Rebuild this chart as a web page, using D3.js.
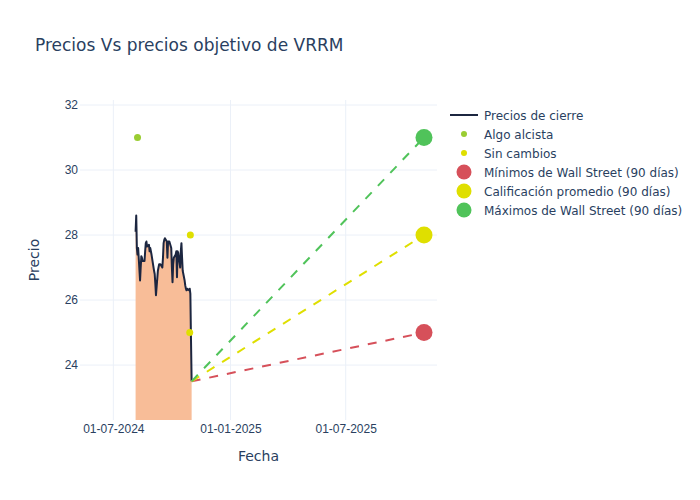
<!DOCTYPE html>
<html>
<head>
<meta charset="utf-8">
<script src="https://cdn.jsdelivr.net/npm/d3@7"></script>
<style>
  body { margin: 0; background: #fff; }
  svg { font-family: "DejaVu Sans", Verdana, sans-serif; }
</style>
</head>
<body>
<div id="chart"></div>
<script>
// ---------- DATA ----------
const priceDates = [
  "2024-08-05","2024-08-06","2024-08-07","2024-08-08","2024-08-09",
  "2024-08-12","2024-08-13","2024-08-14","2024-08-15","2024-08-16",
  "2024-08-19","2024-08-20","2024-08-21","2024-08-22","2024-08-23",
  "2024-08-26","2024-08-27","2024-08-28","2024-08-29","2024-08-30",
  "2024-09-03","2024-09-04","2024-09-05","2024-09-06",
  "2024-09-09","2024-09-10","2024-09-11","2024-09-12","2024-09-13",
  "2024-09-16","2024-09-17","2024-09-18","2024-09-19","2024-09-20",
  "2024-09-23","2024-09-24","2024-09-25","2024-09-26","2024-09-27",
  "2024-09-30","2024-10-01","2024-10-02","2024-10-03","2024-10-04",
  "2024-10-07","2024-10-08","2024-10-09","2024-10-10","2024-10-11",
  "2024-10-14","2024-10-15","2024-10-16","2024-10-17","2024-10-18",
  "2024-10-21","2024-10-22","2024-10-23","2024-10-24","2024-10-25",
  "2024-10-28","2024-10-29","2024-10-30","2024-10-31","2024-11-01"
];
const priceValues = [
  28.1, 28.6, 27.6, 27.4, 27.6,
  26.6, 27.0, 27.35, 27.3, 27.2,
  27.2, 27.5, 27.75, 27.8, 27.65,
  27.7, 27.5, 27.6, 27.5, 27.4,
  26.9, 26.8, 26.5, 26.15,
  26.9, 27.0, 27.1, 27.1, 27.1,
  27.0, 27.3, 27.75, 27.85, 27.9,
  27.8, 27.3, 27.8, 27.8, 27.8,
  27.6, 27.0, 26.55, 27.1, 27.3,
  27.4, 27.5, 26.7, 27.5, 27.45,
  27.0, 27.5, 27.75, 27.3, 26.9,
  26.6, 26.45, 26.35, 26.3, 26.35,
  26.3, 26.35, 26.2, 24.8, 23.5
];

const bullishDates = ["2024-08-08"];
const bullishValues = [31];
const neutralDates = ["2024-10-30", "2024-10-29"];
const neutralValues = [28, 25];

const targetStartDate = "2024-11-01";
const targetStartValue = 23.5;
const targetDate = "2025-11-01";
const targetNames = ["Mínimos de Wall Street (90 días)", "Calificación promedio (90 días)", "Máximos de Wall Street (90 días)"];
const targetValues = [25, 28, 31];
const targetColors = ["#d6505a", "#dfdf00", "#50c35a"];

const xDomain = ["2024-05-09T16:00:00Z", "2025-11-21T10:00:00Z"];
const yDomain = [22.31, 32.154];
const xTicks = ["2024-07-01", "2025-01-01", "2025-07-01"];
const yTicks = [24, 26, 28, 30, 32];

const legendItems = [
  { name: "Precios de cierre", type: "line", color: "#1c2640" },
  { name: "Algo alcista", type: "small", color: "#9acd32" },
  { name: "Sin cambios", type: "small", color: "#dfdf00" },
  { name: targetNames[0], type: "big", color: targetColors[0] },
  { name: targetNames[1], type: "big", color: targetColors[1] },
  { name: targetNames[2], type: "big", color: targetColors[2] }
];

// ---------- LAYOUT ----------
const W = 700, H = 500;
const plot = { left: 80, right: 437, top: 100, bottom: 420 };
const textColor = "#2a3f5f";
const gridColor = "#ebf0f8";

const parse = s => new Date(s.length === 10 ? s + "T00:00:00Z" : s);

const svg = d3.select("#chart").append("svg")
  .attr("width", W).attr("height", H);

const x = d3.scaleUtc().domain(xDomain.map(parse)).range([plot.left, plot.right]);
const y = d3.scaleLinear().domain(yDomain).range([plot.bottom, plot.top]);

// gridlines
const grid = svg.append("g");
grid.selectAll("line.gx").data(xTicks.map(parse)).enter().append("line")
  .attr("x1", d => x(d)).attr("x2", d => x(d))
  .attr("y1", plot.top).attr("y2", plot.bottom)
  .attr("stroke", gridColor).attr("stroke-width", 1);
grid.selectAll("line.gy").data(yTicks).enter().append("line")
  .attr("x1", plot.left).attr("x2", plot.right)
  .attr("y1", d => y(d)).attr("y2", d => y(d))
  .attr("stroke", gridColor).attr("stroke-width", 1);

// clip
svg.append("clipPath").attr("id", "clip").append("rect")
  .attr("x", plot.left).attr("y", plot.top)
  .attr("width", plot.right - plot.left).attr("height", plot.bottom - plot.top);

const g = svg.append("g").attr("clip-path", "url(#clip)");

const prices = priceDates.map((d, i) => ({ date: parse(d), value: priceValues[i] }));

// area fill to zero (clipped at bottom)
const area = d3.area()
  .x(d => x(d.date))
  .y0(y(0))
  .y1(d => y(d.value));
g.append("path").datum(prices)
  .attr("d", area)
  .attr("fill", "#f8bd98");

const line = d3.line().x(d => x(d.date)).y(d => y(d.value));
g.append("path").datum(prices)
  .attr("d", line)
  .attr("fill", "none")
  .attr("stroke", "#1c2640")
  .attr("stroke-width", 2)
  .attr("stroke-linejoin", "round");

// dashed target lines
targetValues.forEach((v, i) => {
  g.append("line")
    .attr("x1", x(parse(targetStartDate))).attr("y1", y(targetStartValue))
    .attr("x2", x(parse(targetDate))).attr("y2", y(v))
    .attr("stroke", targetColors[i]).attr("stroke-width", 2)
    .attr("stroke-dasharray", "9,9");
});

// analyst dots
g.selectAll("circle.bull").data(bullishDates.map((d, i) => ({ date: parse(d), value: bullishValues[i] })))
  .enter().append("circle")
  .attr("cx", d => x(d.date)).attr("cy", d => y(d.value)).attr("r", 3.5)
  .attr("fill", "#9acd32");
g.selectAll("circle.neu").data(neutralDates.map((d, i) => ({ date: parse(d), value: neutralValues[i] })))
  .enter().append("circle")
  .attr("cx", d => x(d.date)).attr("cy", d => y(d.value)).attr("r", 3.5)
  .attr("fill", "#dfdf00");

// target markers (not clipped)
svg.selectAll("circle.tgt").data(targetValues).enter().append("circle")
  .attr("cx", x(parse(targetDate))).attr("cy", d => y(d)).attr("r", 8.5)
  .attr("fill", (d, i) => targetColors[i]);

// axes
const xAxis = d3.axisBottom(x)
  .tickValues(xTicks.map(parse))
  .tickFormat(d3.utcFormat("%d-%m-%Y"))
  .tickSize(0).tickPadding(4);
const xa = svg.append("g").attr("transform", `translate(0,${plot.bottom})`).call(xAxis);
xa.select(".domain").remove();
xa.selectAll("text").attr("fill", textColor).style("font-size", "12px");

const yAxis = d3.axisLeft(y).tickValues(yTicks).tickSize(0).tickPadding(2);
const ya = svg.append("g").attr("transform", `translate(${plot.left},0)`).call(yAxis);
ya.select(".domain").remove();
ya.selectAll("text").attr("fill", textColor).style("font-size", "12px");

// titles
svg.append("text").attr("x", 35).attr("y", 51)
  .attr("fill", textColor).style("font-size", "17px")
  .text("Precios Vs precios objetivo de VRRM");
svg.append("text").attr("x", (plot.left + plot.right) / 2).attr("y", 461)
  .attr("text-anchor", "middle").attr("fill", textColor).style("font-size", "14px")
  .text("Fecha");
svg.append("text")
  .attr("transform", `translate(39,${(plot.top + plot.bottom) / 2}) rotate(-90)`)
  .attr("text-anchor", "middle").attr("fill", textColor).style("font-size", "14px")
  .text("Precio");

// legend
const lg = svg.append("g").attr("transform", "translate(450,115)");
legendItems.forEach((it, i) => {
  const row = lg.append("g").attr("transform", `translate(0,${i * 19})`);
  if (it.type === "line") {
    row.append("line").attr("x1", 0).attr("x2", 28).attr("y1", 0).attr("y2", 0)
      .attr("stroke", it.color).attr("stroke-width", 2);
  } else {
    row.append("circle").attr("cx", 14).attr("cy", 0)
      .attr("r", it.type === "small" ? 3 : 7.5).attr("fill", it.color);
  }
  row.append("text").attr("x", 34).attr("y", 4.5)
    .attr("fill", textColor).style("font-size", "12px").text(it.name);
});
</script>
</body>
</html>
